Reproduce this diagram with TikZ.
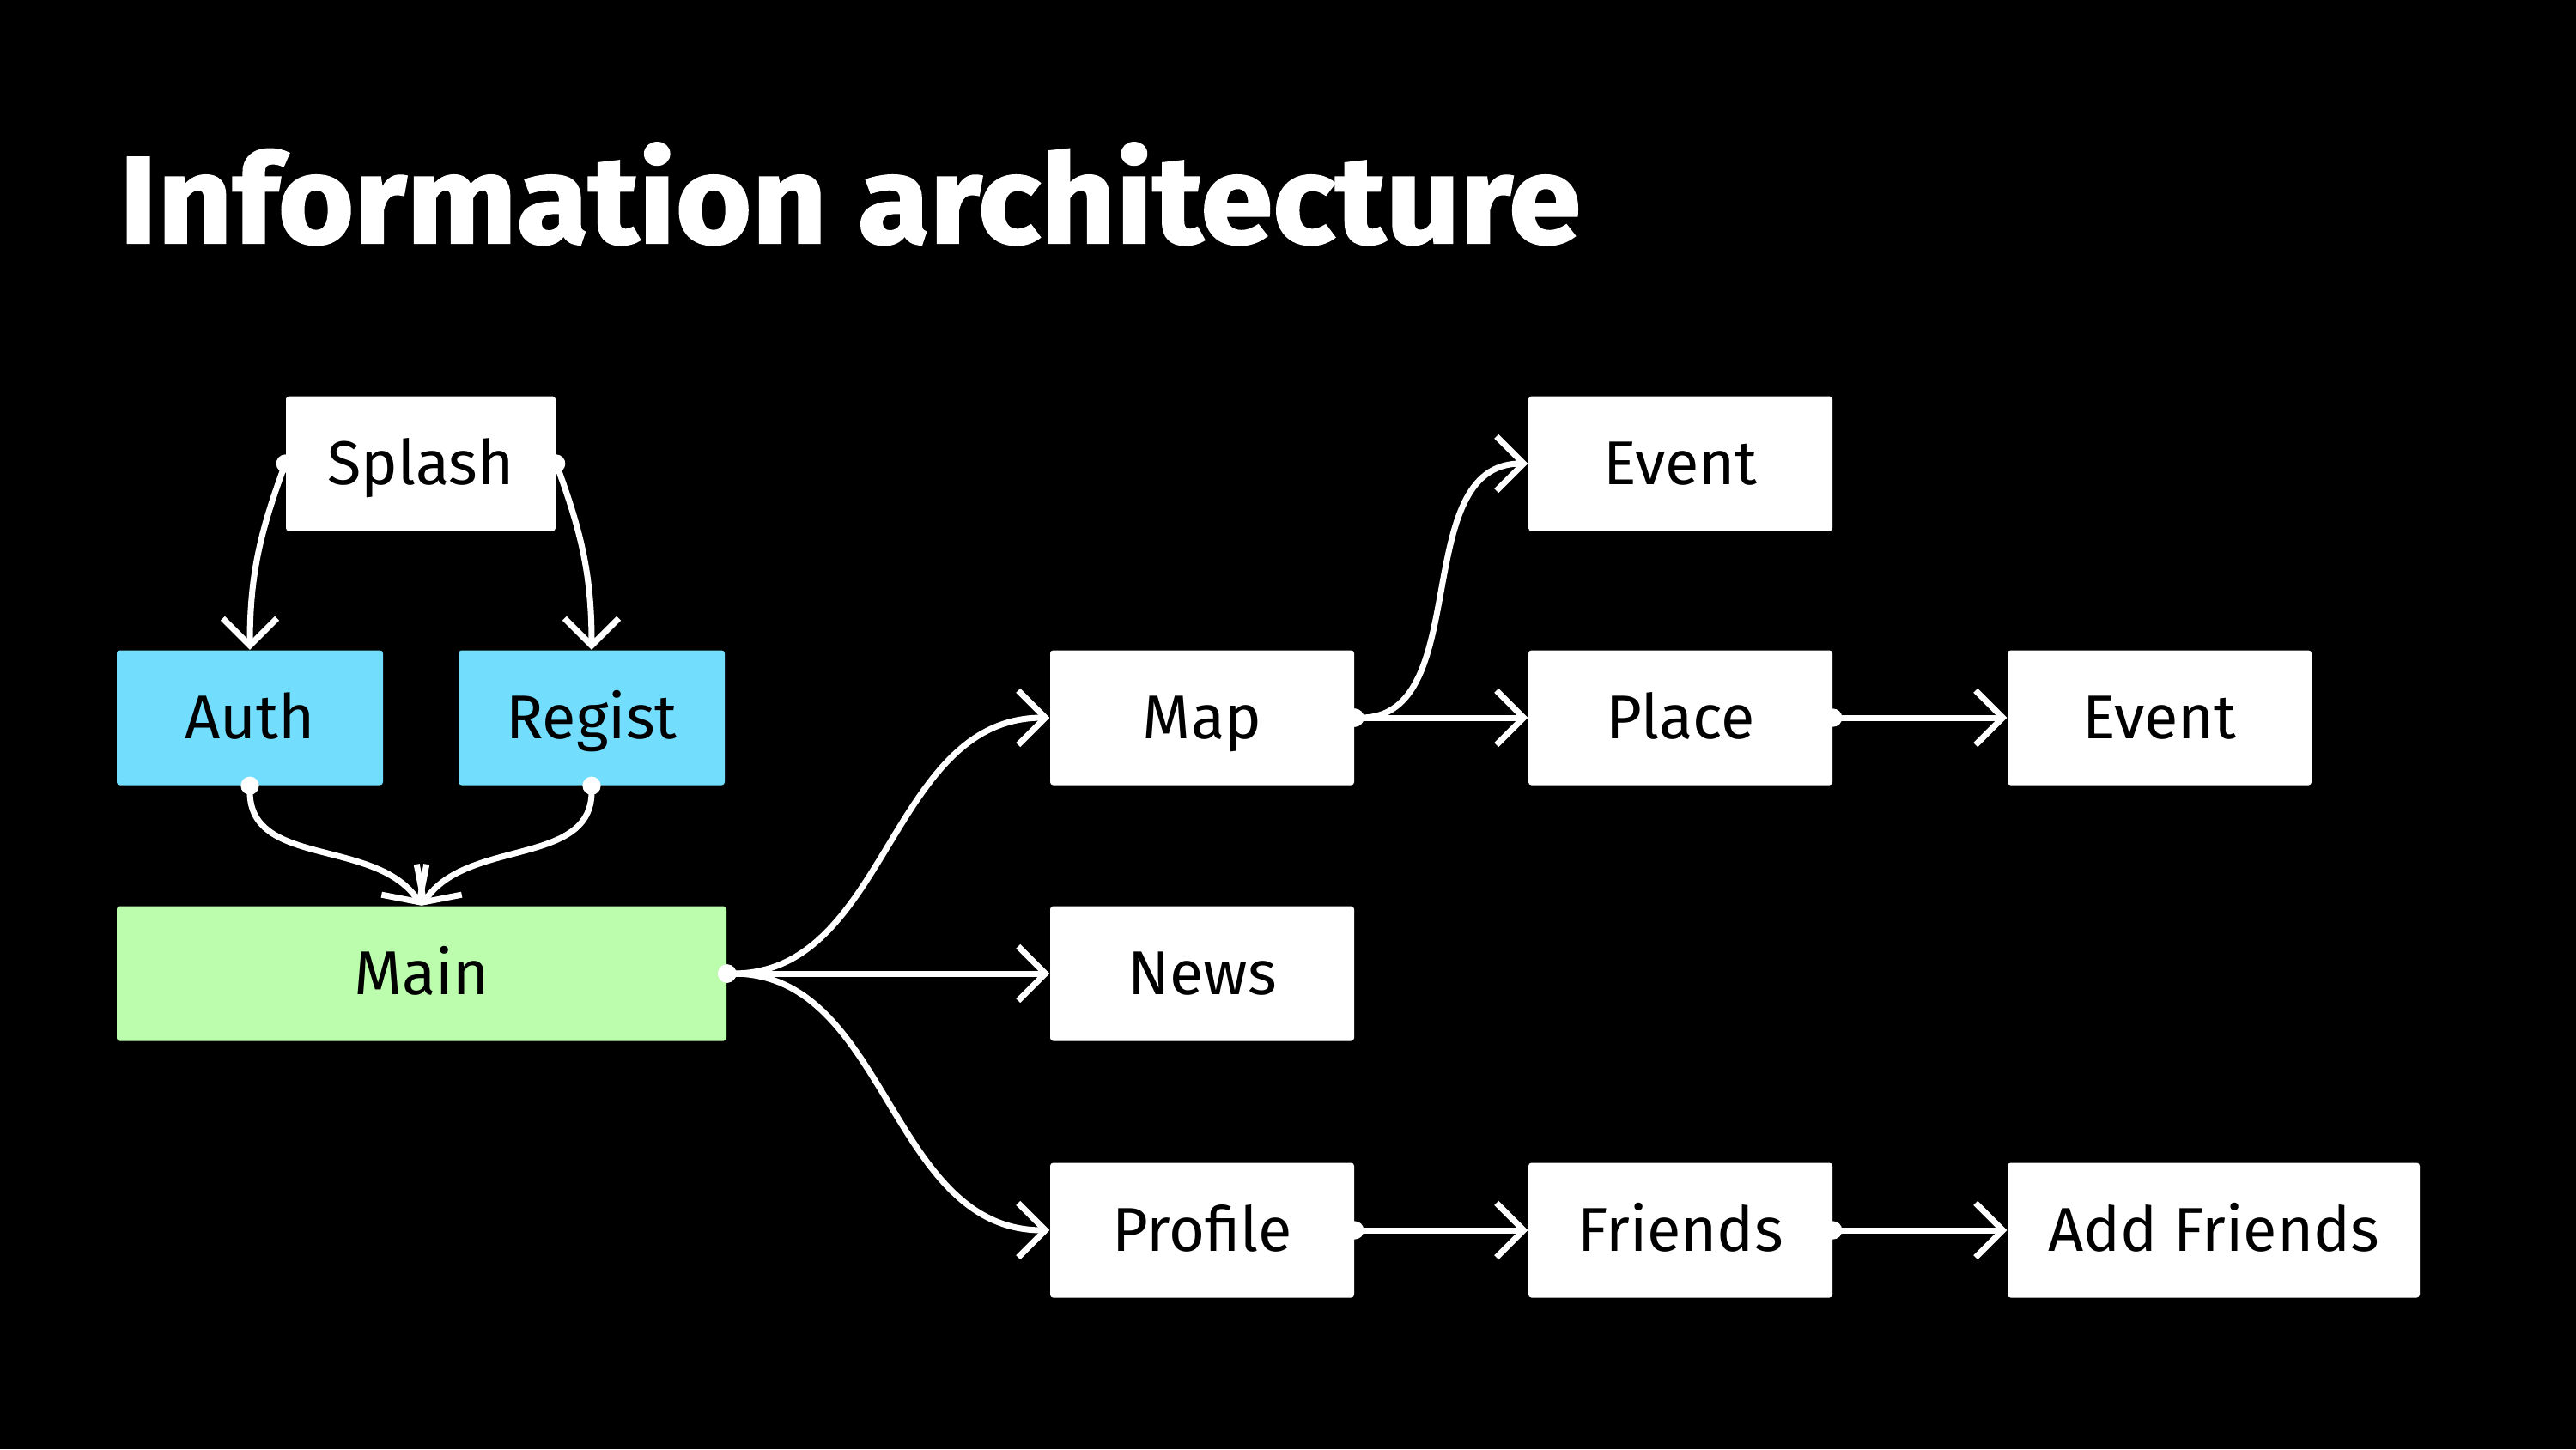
\documentclass[tikz,border=0pt]{standalone}
\usepackage{fontspec}
\setmainfont{Fira Sans}
\newfontfamily\headingfont{Fira Sans}[FakeStretch=1.055, FakeBold=1.5]
\usetikzlibrary{arrows.meta}

\definecolor{authblue}{HTML}{72DDFD}
\definecolor{maingreen}{HTML}{BBFDAD}

\begin{document}
\begin{tikzpicture}[
    screen/.style={fill=white, rounded corners=1pt, inner sep=0pt,
        minimum width=3.54cm, minimum height=1.57cm,
        text height=14.2pt, text depth=0pt,
        text=black, font=\fontsize{20.5}{25}\selectfont},
    flow/.style={draw=white, line width=2pt, shorten <=-3pt,
        arrows={Circle[length=6pt]-Straight Barb[length=9pt, width=18pt]}},
    heading/.style={text=white, inner sep=0pt, font=\headingfont\fontsize{41}{48}\selectfont\bfseries}
]
    \fill[black] (0, 0) rectangle (30, -16.88);

    \node[heading, anchor=base west] (title) at (1.38, -2.83) {Information architecture};

    \node[screen, minimum width=3.14cm] (splash) at (4.90, -5.40) {Splash};
    \node[screen, fill=authblue, minimum width=3.10cm] (auth) at (2.91, -8.36) {Auth};
    \node[screen, fill=authblue, minimum width=3.10cm] (regist) at (6.89, -8.36) {Regist};
    \node[screen, fill=maingreen, minimum width=7.10cm] (main) at (4.91, -11.34) {Main};
    \node[screen] (map) at (14.00, -8.36) {Map};
    \node[screen] (news) at (14.00, -11.34) {News};
    \node[screen] (profile) at (14.00, -14.33) {Profile};
    \node[screen] (event) at (19.57, -5.40) {Event};
    \node[screen] (place) at (19.57, -8.36) {Place};
    \node[screen] (placeevent) at (25.15, -8.36) {Event};
    \node[screen] (friends) at (19.57, -14.33) {Friends};
    \node[screen, minimum width=4.80cm] (addfriends) at (25.78, -14.33) {Add Friends};

    \draw[flow] (splash.west) to[out=250, in=90] (auth.north);
    \draw[flow] (splash.east) to[out=-70, in=90] (regist.north);
    \draw[flow] (auth.south) to[out=-90, in=124] (main.north);
    \draw[flow] (regist.south) to[out=-90, in=56] (main.north);
    \draw[flow] (main.east) to[out=0, in=180] (map.west);
    \draw[flow] (main.east) -- (news.west);
    \draw[flow] (main.east) to[out=0, in=180] (profile.west);
    \draw[flow] (map.east) to[out=0, in=180] (event.west);
    \draw[flow] (map.east) -- (place.west);
    \draw[flow] (place.east) -- (placeevent.west);
    \draw[flow] (profile.east) -- (friends.west);
    \draw[flow] (friends.east) -- (addfriends.west);
\end{tikzpicture}
\end{document}
